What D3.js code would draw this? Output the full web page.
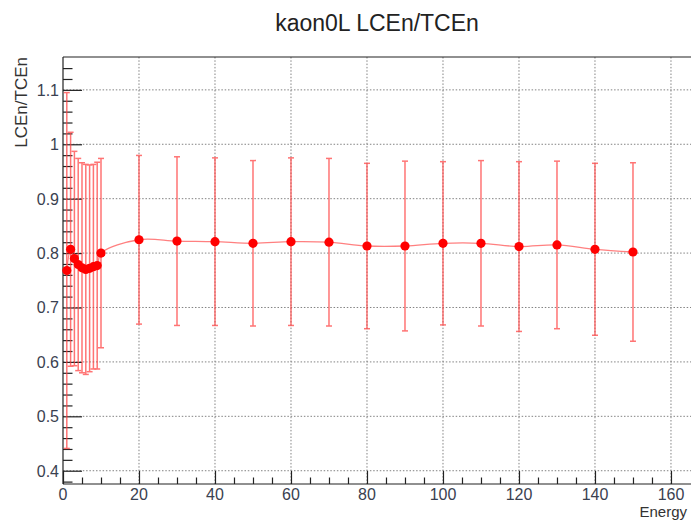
<!DOCTYPE html>
<html>
<head>
<meta charset="utf-8">
<script src="https://cdn.jsdelivr.net/npm/d3@7"></script>
<style>
  html, body { margin: 0; padding: 0; background: #fff; }
  svg { display: block; }
  text { font-family: "Liberation Sans", Arial, Helvetica, sans-serif; }
</style>
</head>
<body>
<div id="chart"></div>
<script>
// Beam energy points and the measured LCEn/TCEn ratio with its uncertainty
const energy = [1, 2, 3, 4, 5, 6, 7, 8, 9, 10,
                20, 30, 40, 50, 60, 70, 80, 90, 100, 110, 120, 130, 140, 150];
const ratio = [0.768, 0.807, 0.790, 0.779, 0.773, 0.770, 0.772, 0.775, 0.777, 0.800,
               0.8245, 0.822, 0.821, 0.818, 0.821, 0.820, 0.813, 0.813, 0.818, 0.818,
               0.812, 0.815, 0.807, 0.802];
const ratioErr = [0.327, 0.215, 0.197, 0.195, 0.193, 0.193, 0.190, 0.188, 0.190, 0.174,
                  0.155, 0.155, 0.154, 0.152, 0.154, 0.154, 0.152, 0.156, 0.150, 0.152,
                  0.156, 0.154, 0.158, 0.164];

const xMajorTicks = [0, 20, 40, 60, 80, 100, 120, 140, 160];
const yMajorTicks = [0.4, 0.5, 0.6, 0.7, 0.8, 0.9, 1.0, 1.1];
const titleText = "kaon0L LCEn/TCEn";
const xTitle = "Energy";
const yTitle = "LCEn/TCEn";

const points = energy.map((e, i) => ({ e, v: ratio[i], err: ratioErr[i] }));

const W = 691, H = 521;
const frame = { left: 63, right: 689.6, top: 57, bottom: 484 };

// Axis ranges padded by 10% of the data span, x clipped at zero
const xMin = d3.min(energy), xMax = d3.max(energy);
const dx = xMax - xMin;
const x0 = Math.max(0, xMin - 0.1 * dx), x1 = xMax + 0.1 * dx;
const lo = d3.min(points, p => p.v - p.err), hi = d3.max(points, p => p.v + p.err);
const dy = hi - lo;
const y0 = lo - 0.1 * dy, y1 = hi + 0.1 * dy;

const x = d3.scaleLinear().domain([x0, x1]).range([frame.left, frame.right]);
const y = d3.scaleLinear().domain([y0, y1]).range([frame.bottom, frame.top]);

const svg = d3.select("#chart").append("svg")
  .attr("width", W).attr("height", H);

svg.append("rect").attr("width", W).attr("height", H).attr("fill", "#fff");

// Dotted grid at the major ticks
const grid = svg.append("g")
  .attr("stroke", "#6e6e6e").attr("stroke-width", 1)
  .attr("stroke-dasharray", "1.5,1.8").attr("opacity", 0.85);
grid.selectAll("line.gx").data(xMajorTicks.filter(t => t > x0 && t < x1))
  .join("line").attr("class", "gx")
  .attr("x1", d => x(d)).attr("x2", d => x(d))
  .attr("y1", frame.top).attr("y2", frame.bottom);
grid.selectAll("line.gy").data(yMajorTicks)
  .join("line").attr("class", "gy")
  .attr("x1", frame.left).attr("x2", W)
  .attr("y1", d => y(d)).attr("y2", d => y(d));

// Inward ticks: major + minor
const axisColor = "#222";
const xMinor = d3.range(0, 165, 5).filter(t => t % 20 !== 0 && t <= x1);
const yMinor = d3.range(38, 116, 2).map(v => v / 100)
  .filter(v => Math.round(v * 100) % 10 !== 0 && v > y0 && v < y1);

const xAxis = d3.axisBottom(x).tickValues(xMajorTicks).tickSize(-13).tickFormat("");
const xAxisMinor = d3.axisBottom(x).tickValues(xMinor).tickSize(-6.5).tickFormat("");
const yAxis = d3.axisLeft(y).tickValues(yMajorTicks).tickSize(-19).tickFormat("");
const yAxisMinor = d3.axisLeft(y).tickValues(yMinor).tickSize(-9.5).tickFormat("");

[[xAxis, `translate(0,${frame.bottom})`], [xAxisMinor, `translate(0,${frame.bottom})`],
 [yAxis, `translate(${frame.left},0)`], [yAxisMinor, `translate(${frame.left},0)`]]
  .forEach(([ax, tr]) => {
    const g = svg.append("g").attr("transform", tr).call(ax);
    g.select(".domain").remove();
    g.selectAll("line").attr("stroke", axisColor).attr("stroke-width", 1.2);
  });

// Frame: left, bottom and top edges (the right edge falls at the page border)
const frameLines = [
  [frame.left, frame.top, frame.left, frame.bottom],
  [frame.left, frame.bottom, W, frame.bottom],
  [frame.left, frame.top, W, frame.top]
];
svg.append("g").selectAll("line").data(frameLines).join("line")
  .attr("x1", d => d[0]).attr("y1", d => d[1]).attr("x2", d => d[2]).attr("y2", d => d[3])
  .attr("stroke", axisColor).attr("stroke-width", 1.2);

// Tick labels
const labelColor = "#3a4150";
svg.append("g").selectAll("text").data(xMajorTicks).join("text")
  .attr("x", d => x(d)).attr("y", 500)
  .attr("text-anchor", "middle").attr("font-size", 16).attr("fill", labelColor)
  .text(d => d3.format("d")(d));
svg.append("g").selectAll("text").data(yMajorTicks).join("text")
  .attr("x", 59).attr("y", d => y(d) + 6)
  .attr("text-anchor", "end").attr("font-size", 16).attr("fill", labelColor)
  .text(d => d === 1 ? "1" : d3.format(".1f")(d));

// Titles
svg.append("text").attr("x", 377).attr("y", 31).attr("text-anchor", "middle")
  .attr("font-size", 23).attr("fill", "#222").text(titleText);
svg.append("text").attr("x", 687).attr("y", 516.5).attr("text-anchor", "end")
  .attr("font-size", 15).attr("fill", "#333").text(xTitle);
svg.append("text").attr("transform", `translate(27,${frame.top}) rotate(-90)`)
  .attr("text-anchor", "end").attr("font-size", 17).attr("fill", "#333").text(yTitle);

const plot = svg.append("g");

// Error bars with end caps
const errColor = "#ff4040";
const eb = plot.append("g").attr("stroke", errColor).attr("stroke-width", 1.5)
  .attr("opacity", 0.72);
eb.selectAll("line.bar").data(points).join("line").attr("class", "bar")
  .attr("x1", d => x(d.e)).attr("x2", d => x(d.e))
  .attr("y1", d => y(d.v - d.err)).attr("y2", d => y(d.v + d.err));
eb.selectAll("line.capTop").data(points).join("line").attr("class", "capTop")
  .attr("x1", d => x(d.e) - 3).attr("x2", d => x(d.e) + 3)
  .attr("y1", d => y(d.v + d.err)).attr("y2", d => y(d.v + d.err));
eb.selectAll("line.capBot").data(points).join("line").attr("class", "capBot")
  .attr("x1", d => x(d.e) - 3).attr("x2", d => x(d.e) + 3)
  .attr("y1", d => y(d.v - d.err)).attr("y2", d => y(d.v - d.err));

// Smooth curve through the points
const line = d3.line().x(d => x(d.e)).y(d => y(d.v))
  .curve(d3.curveCatmullRom.alpha(0.5));
plot.append("path").datum(points).attr("d", line)
  .attr("fill", "none").attr("stroke", "#ff6060").attr("stroke-width", 1.3)
  .attr("opacity", 0.8);

// Markers
plot.append("g").selectAll("circle").data(points).join("circle")
  .attr("cx", d => x(d.e)).attr("cy", d => y(d.v)).attr("r", 4.6)
  .attr("fill", "#ff0000");
</script>
</body>
</html>
